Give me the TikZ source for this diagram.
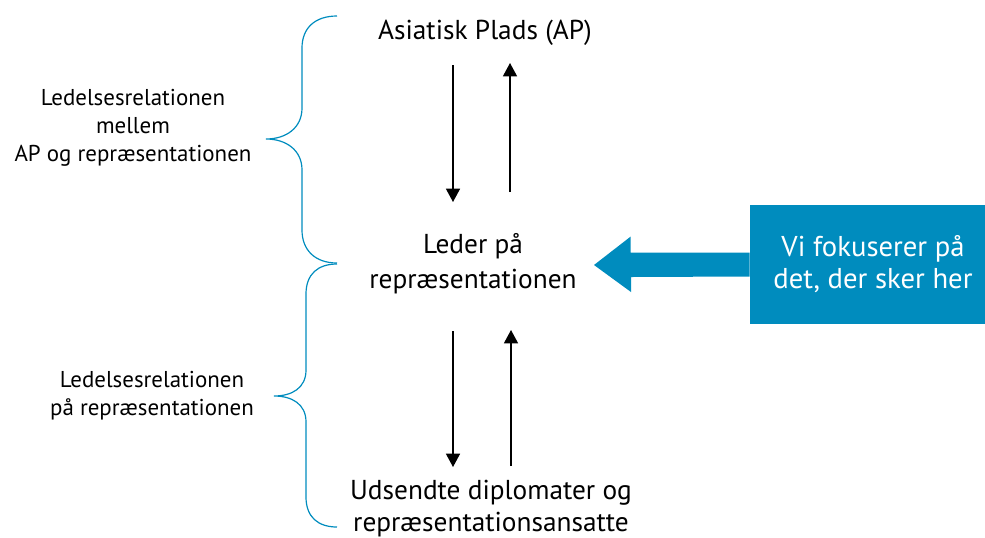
\documentclass[tikz,border=0pt]{standalone}
\usepackage{fontspec}
\setmainfont{PT Sans}
\usetikzlibrary{arrows.meta}
\definecolor{apblue}{HTML}{008CBE}
\tikzset{
  main/.style={align=center,font=\fontsize{20.5}{26}\selectfont},
  side/.style={align=center,font=\fontsize{17.2}{21}\selectfont},
  flow/.style={-{Triangle[width=10.5pt,length=10pt]},line width=1.1pt},
  brace/.style={apblue,line width=0.9pt},
}
\begin{document}
\begin{tikzpicture}[x=0.75pt,y=-0.75pt]
    \useasboundingbox (0,0) rectangle (985,537);
    % levels
    \node[main] (ap) at (485,33) {Asiatisk Plads (AP)};
    \node[main] (leder) at (473,264) {Leder på\\repræsentationen};
    \node[main,font=\fontsize{20.5}{24}\selectfont] (staff) at (491,509) {Udsendte diplomater og\\repræsentationsansatte};
    % arrows between levels
    \coordinate (apout) at (453,65);
    \coordinate (lederin) at (453,202);
    \coordinate (lederout) at (510,192);
    \coordinate (apin) at (510,63);
    \draw[flow] (apout) -- (lederin);
    \draw[flow] (lederout) -- (apin);
    \coordinate (lederdown) at (453,331);
    \coordinate (staffin) at (453,467);
    \coordinate (staffout) at (511,466);
    \coordinate (lederup) at (511,330);
    \draw[flow] (lederdown) -- (staffin);
    \draw[flow] (staffout) -- (lederup);
    % braces
    \draw[brace] (337,16) .. controls (315,16) and (302,28) .. (302,48) -- (302,108)
        .. controls (302,128) and (286,139) .. (266,139)
        .. controls (286,139) and (302,150) .. (302,170) -- (302,230)
        .. controls (302,250) and (315,263) .. (337,263);
    \draw[brace] (337,264) .. controls (318,264) and (306,274) .. (306,294) -- (306,370)
        .. controls (306,388) and (292,396) .. (274,396)
        .. controls (292,396) and (306,404) .. (306,422) -- (306,497)
        .. controls (306,517) and (318,527) .. (337,527);
    \node[side] (rel1) at (133,128) {Ledelsesrelationen\\mellem\\AP og repræsentationen};
    \node[side] (rel2) at (152,396) {Ledelsesrelationen\\på repræsentationen};
    % focus box
    \node[fill=apblue,text=white,align=center,font=\fontsize{21.5}{24}\selectfont,
          minimum width=184.5pt,minimum height=89.25pt] (focus) at (873,264.5)
          {Vi fokuserer på\\det, der sker her};
    \coordinate (focustip) at (594,265);
    \fill[apblue] ([yshift=9pt]focus.west) -- ++(-119,0) -- ++(0,-16) -- (focustip)
        -- ++(37,27) -- ++(0,-15) -- ([yshift=-9pt]focus.west) -- cycle;
\end{tikzpicture}
\end{document}
